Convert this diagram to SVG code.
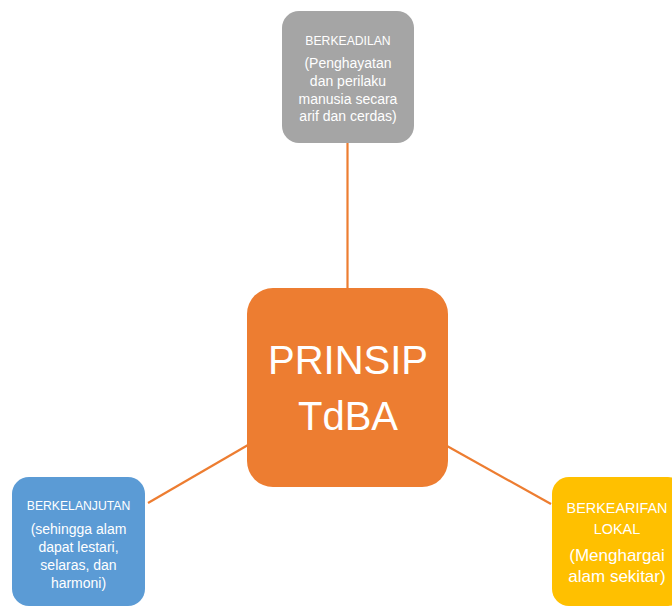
<svg xmlns="http://www.w3.org/2000/svg" width="672" height="607" viewBox="0 0 672 607">
<style>
text{font-family:"Liberation Sans",Arial,sans-serif;fill:#fff;text-anchor:middle}
.t{font-size:12.2px}
.b{font-size:14px}
.rt{font-size:14.4px}
.rb{font-size:17px}
.c{font-size:40px}
.conn line{stroke:#ED7D31;stroke-width:2.2}
</style>
<rect width="672" height="607" fill="#fff"/>
<g id="connectors" class="conn">
<line x1="347.5" y1="143" x2="347.5" y2="289"/>
<line x1="148" y1="503" x2="248" y2="445"/>
<line x1="447" y1="446" x2="551" y2="504"/>
</g>
<g id="center">
<rect x="247" y="288" width="201" height="199" rx="26" fill="#ED7D31"/>
<text class="c" x="348" y="374">PRINSIP</text>
<text class="c" x="348" y="430">TdBA</text>
</g>
<g id="berkeadilan">
<rect x="282" y="11" width="132" height="132" rx="17" fill="#A5A5A5"/>
<text class="t" x="348" y="45">BERKEADILAN</text>
<text class="b" x="348" y="68">(Penghayatan</text>
<text class="b" x="348" y="86">dan perilaku</text>
<text class="b" x="348" y="103.5">manusia secara</text>
<text class="b" x="348" y="121">arif dan cerdas)</text>
</g>
<g id="berkelanjutan">
<rect x="12" y="477" width="133" height="129" rx="17" fill="#5B9BD5"/>
<text class="t" x="78.5" y="510">BERKELANJUTAN</text>
<text class="b" x="78.5" y="534">(sehingga alam</text>
<text class="b" x="78.5" y="552">dapat lestari,</text>
<text class="b" x="78.5" y="570">selaras, dan</text>
<text class="b" x="78.5" y="588">harmoni)</text>
</g>
<g id="berkearifan">
<rect x="552" y="477" width="133" height="129" rx="17" fill="#FFC000"/>
<text class="rt" x="617" y="513">BERKEARIFAN</text>
<text class="rt" x="617" y="534">LOKAL</text>
<text class="rb" x="617" y="561">(Menghargai</text>
<text class="rb" x="617" y="582">alam sekitar)</text>
</g>
</svg>
